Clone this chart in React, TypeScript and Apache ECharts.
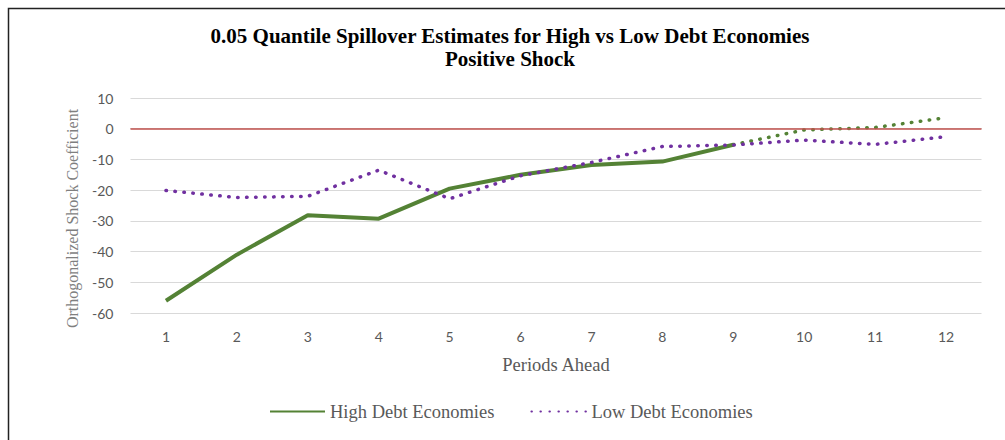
import React, { useEffect, useRef } from "react";
import * as echarts from "echarts";

const periods = ["1", "2", "3", "4", "5", "6", "7", "8", "9", "10", "11", "12"];
const highDebt = [-56, -41, -28.2, -29.3, -19.5, -15, -11.8, -10.7, -5.2, null, null, null];
const highDebtExt = [null, null, null, null, null, null, null, null, -5.2, -0.4, 0.4, 3.6];
const lowDebt = [-20.1, -22.4, -22, -13.5, -22.8, -15.3, -11, -5.8, -5.3, -3.7, -5.1, -2.6];
const yTicks = { min: -60, max: 10, interval: 10 };

const GREEN = "#548235";
const PURPLE = "#7030A0";

export default function App() {
  const ref = useRef<HTMLDivElement>(null);
  useEffect(() => {
    if (!ref.current) return;
    const chart = echarts.init(ref.current, undefined, { renderer: "svg" });
    chart.setOption({
      animation: false,
      backgroundColor: "#ffffff",
      title: {
        text: "0.05 Quantile Spillover Estimates for High vs Low Debt Economies\nPositive Shock",
        left: 505,
        textAlign: "center",
        top: 19,
        textStyle: {
          fontFamily: "Liberation Serif",
          fontWeight: "bold",
          fontSize: 21,
          color: "#000",
          lineHeight: 23,
        },
      },
      grid: { left: 130.5, right: 23.5, top: 98, bottom: 127, containLabel: false },
      legend: {
        data: ["High Debt Economies", "Low Debt Economies"],
        top: 397,
        left: 264,
        itemWidth: 55,
        itemHeight: 4,
        itemGap: 36,
        itemStyle: { opacity: 0 },
        textStyle: { fontFamily: "Liberation Serif", fontSize: 18.5, color: "#595959" },
      },
      xAxis: {
        type: "category",
        data: periods,
        name: "Periods Ahead",
        nameLocation: "middle",
        nameGap: 42,
        nameTextStyle: { fontFamily: "Liberation Serif", fontSize: 18.5, color: "#595959" },
        axisLine: { show: true, lineStyle: { color: "#d9d9d9", width: 1 } },
        axisTick: { show: false },
        axisLabel: { fontFamily: "Lato", fontSize: 14, color: "#595959", margin: 16 },
      },
      yAxis: {
        type: "value",
        min: yTicks.min,
        max: yTicks.max,
        interval: yTicks.interval,
        name: "Orthogonalized Shock Coefficient",
        nameLocation: "middle",
        nameGap: 50,
        nameTextStyle: {
          fontFamily: "Liberation Serif",
          fontSize: 16,
          color: "#7f7f7f",
          padding: [0, 26, 0, 0],
        },
        axisLine: { show: false },
        axisTick: { show: false },
        axisLabel: { fontFamily: "Lato", fontSize: 14, color: "#595959", margin: 17 },
        splitLine: { lineStyle: { color: "#d9d9d9", width: 1 } },
      },
      series: [
        {
          name: "High Debt Economies",
          type: "line",
          data: highDebt,
          showSymbol: false,
          symbol: "none",
          connectNulls: false,
          lineStyle: { color: GREEN, width: 4 },
          itemStyle: { color: GREEN },
          z: 3,
          markLine: {
            silent: true,
            symbol: "none",
            label: { show: false },
            lineStyle: { color: "#C0504D", width: 1.5, type: "solid" },
            data: [{ yAxis: 0 }],
          },
        },
        {
          name: "High Debt Extension",
          type: "line",
          data: highDebtExt,
          showSymbol: false,
          symbol: "none",
          lineStyle: { color: GREEN, width: 3.5, type: [0.5, 8.5], cap: "round" },
          itemStyle: { color: GREEN },
          z: 3,
        },
        {
          name: "Low Debt Economies",
          type: "line",
          data: lowDebt,
          showSymbol: false,
          symbol: "none",
          lineStyle: { color: PURPLE, width: 3.5, type: [0.5, 8.5], cap: "round" },
          itemStyle: { color: PURPLE },
          z: 4,
        },
      ],
      graphic: [
        {
          type: "polyline",
          shape: { points: [[8.5, 440], [8.5, 8.5], [1005, 8.5]] },
          style: { stroke: "#222", lineWidth: 1.5, fill: "none" },
          silent: true,
        },
      ],
    });
    return () => chart.dispose();
  }, []);
  return (
    <div
      ref={ref}
      style={{ position: "fixed", left: 0, top: 0, width: 1005, height: 440 }}
    />
  );
}
